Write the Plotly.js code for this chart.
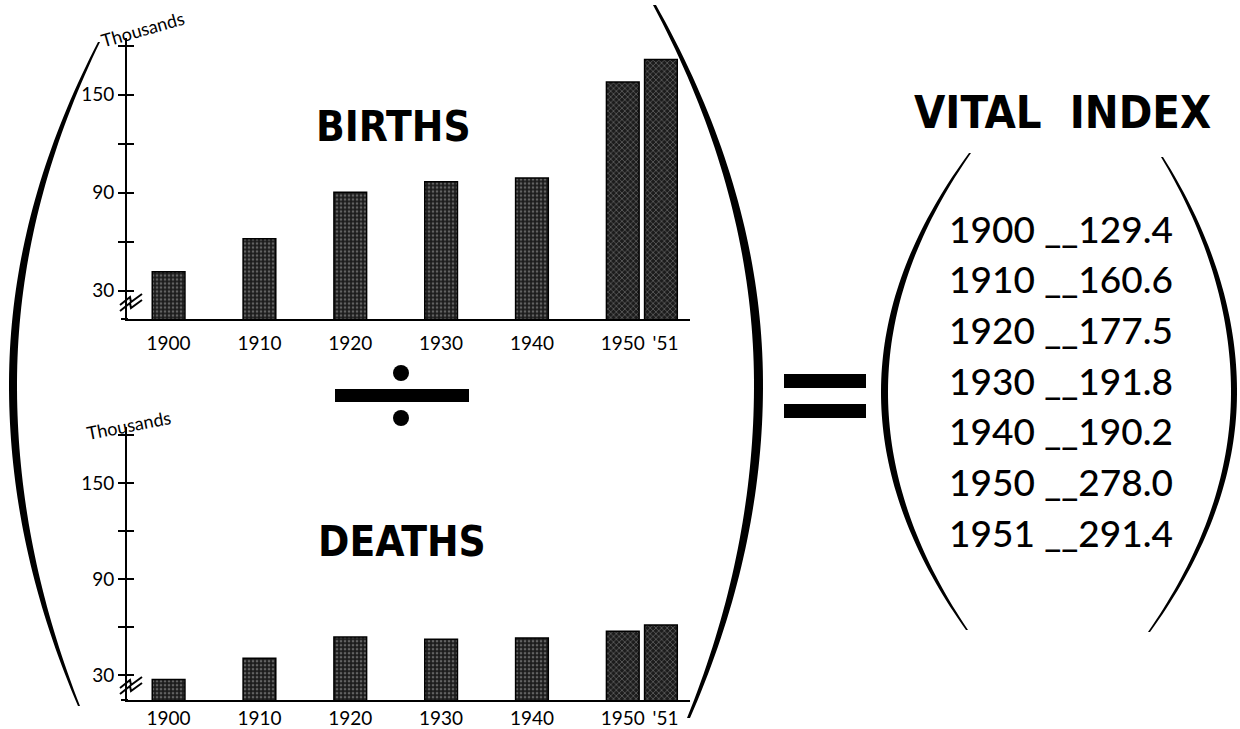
<!DOCTYPE html>
<html><head><meta charset="utf-8">
<script src="https://cdn.plot.ly/plotly-3.0.1.min.js"></script>
<style>html,body{margin:0;padding:0;background:#fff}#chart{width:1240px;height:729px}</style>
</head><body><div id="chart"></div>
<script>
// ---- data ----
const years = [1900, 1910, 1920, 1930, 1940, 1950, 1951];
const births = [41.6, 61.7, 90.3, 96.6, 98.9, 157.8, 171.6];   // thousands
const deaths = [27.3, 40.6, 53.9, 52.4, 53.3, 57.5, 61.3];     // thousands
const vitalIndex = [129.4, 160.6, 177.5, 191.8, 190.2, 278.0, 291.4];
const yTickValues = [30, 60, 90, 120, 150, 180];
const yTickLabels = ['30', '', '90', '', '150', ''];
const xTickLabels = ['1900', '1910', '1920', '1930', '1940', '1950', "'51"];
const chartTitles = ['BIRTHS', 'DEATHS'];
const unitLabel = 'Thousands';
const sideTitle = 'VITAL\u00a0 INDEX';

// ---- layout helpers ----
const W = 1240, H = 729;
const px = x => x / W, py = y => 1 - y / H;
const barW = 3.6, off51 = 1.4;
const numFont = 'Lato, "DejaVu Sans", sans-serif';
const headFont = '"DejaVu Sans Condensed", "DejaVu Sans", sans-serif';

function barTraces(vals, xa, ya) {
  const n = years.length - 1;
  const common = {
    type: 'bar', xaxis: xa, yaxis: ya, width: barW, hoverinfo: 'x+y', showlegend: false
  };
  return [
    Object.assign({}, common, {
      x: years.slice(0, n), y: vals.slice(0, n),
      marker: {
        color: '#1c1c1c', line: {color: '#000', width: 1.5},
        pattern: {shape: years.slice(0, n).map(y => y === 1950 ? 'x' : '.'),
                  fgcolor: '#a8a8a8', size: 4, solidity: 0.35, fillmode: 'overlay'}
      }
    }),
    Object.assign({}, common, {
      x: years.slice(n), y: vals.slice(n), offset: off51,
      marker: {
        color: '#1c1c1c', line: {color: '#000', width: 1.5},
        pattern: {shape: 'x', fgcolor: '#a8a8a8', size: 4, solidity: 0.35, fillmode: 'overlay'}
      }
    })
  ];
}

const traces = [
  ...barTraces(births, 'x', 'y'),
  ...barTraces(deaths, 'x2', 'y2'),
  {x: [], y: [], xaxis: 'x', yaxis: 'y3', type: 'scatter', showlegend: false, hoverinfo: 'skip'},
  {x: [], y: [], xaxis: 'x2', yaxis: 'y4', type: 'scatter', showlegend: false, hoverinfo: 'skip'}
];

const xTickVals = [...years.slice(0, -1), years[years.length - 1] + off51 + barW / 2 + 0.5];
function xAxis(anchor, standoff) {
  return {
    domain: [px(127), px(690)], range: [1895.42, 1957.4], anchor: anchor,
    showline: true, linewidth: 2, linecolor: '#000', ticks: '', tickangle: 0,
    tickvals: xTickVals, ticktext: xTickLabels, ticklabelstandoff: standoff,
    tickfont: {family: numFont, size: 19, color: '#000'},
    showgrid: false, zeroline: false, fixedrange: true
  };
}
function yAxis(anchor, dom, rng) {
  return {
    domain: dom, range: rng, anchor: anchor,
    showline: true, linewidth: 2, linecolor: '#000',
    ticks: 'outside', ticklen: 7, tickwidth: 2, tickcolor: '#000',
    tickvals: yTickValues, ticktext: yTickLabels, ticklabelstandoff: 0,
    tickfont: {family: numFont, size: 19, color: '#000'},
    showgrid: false, zeroline: false, fixedrange: true
  };
}
function yOverlay(over, anchor, rng) {
  return {
    overlaying: over, anchor: anchor, side: 'left', range: rng,
    ticks: 'inside', ticklen: 7, tickwidth: 2, tickcolor: '#000',
    tickvals: yTickValues, showticklabels: false, showline: false,
    showgrid: false, zeroline: false, fixedrange: true
  };
}
const rTop = [12.6, 185], rBot = [14.5, 185];

// ---- decorative shapes ----
function bracketPath(xa, yc, top, bot, dir, wmax, wmin) {
  const kTop = (top[0] - xa) * dir / Math.pow(yc - top[1], 2);
  const kBot = (bot[0] - xa) * dir / Math.pow(bot[1] - yc, 2);
  const outer = [], inner = [];
  const N = 80;
  for (let i = 0; i <= N; i++) {
    const y = top[1] + (bot[1] - top[1]) * i / N;
    const dy = y - yc;
    const k = dy < 0 ? kTop : kBot;
    const t = dy < 0 ? dy / (top[1] - yc) : dy / (bot[1] - yc);
    const x = xa + dir * k * dy * dy;
    const w = wmin + (wmax - wmin) * (1 - t * t);
    outer.push([x, y]);
    inner.push([x + dir * w, y]);
  }
  const pts = outer.concat(inner.reverse());
  return 'M ' + pts.map(p => px(p[0]).toFixed(5) + ',' + py(p[1]).toFixed(5)).join(' L ') + ' Z';
}
function fillPath(d) {
  return {type: 'path', xref: 'paper', yref: 'paper', path: d, fillcolor: '#000', line: {width: 0}};
}
function rect(x0, y0, x1, y1) {
  return {type: 'rect', xref: 'paper', yref: 'paper', x0: px(x0), x1: px(x1), y0: py(y1), y1: py(y0),
          fillcolor: '#000', line: {width: 0}};
}
function dot(cx, cy, r) {
  return {type: 'circle', xref: 'paper', yref: 'paper', x0: px(cx - r), x1: px(cx + r),
          y0: py(cy + r), y1: py(cy - r), fillcolor: '#000', line: {width: 0}};
}
function zig(x0, y0) {
  const p = [[x0, y0], [x0 + 10, y0 - 8], [x0 + 11, y0 - 3], [x0 + 22, y0 - 11]];
  return {type: 'path', xref: 'paper', yref: 'paper',
          path: 'M ' + p.map(q => px(q[0]) + ',' + py(q[1])).join(' L '),
          line: {color: '#000', width: 2}};
}
function seg(x0, y0, x1, y1) {
  return {type: 'line', xref: 'paper', yref: 'paper', x0: px(x0), y0: py(y0), x1: px(x1), y1: py(y1),
          line: {color: '#000', width: 2}};
}

const shapes = [
  fillPath(bracketPath(9, 385, [98, 42], [78, 706], 1, 8, 2)),
  fillPath(bracketPath(763, 385, [656, 5], [690, 718], -1, 9, 3)),
  fillPath(bracketPath(881, 392, [969, 153], [966, 630], 1, 7, 2)),
  fillPath(bracketPath(1237, 392, [1163, 157], [1150, 632], -1, 6, 2)),
  rect(335, 389, 469, 402), dot(401, 373, 8), dot(401, 418, 8),
  rect(784, 374, 866, 388), rect(784, 404, 866, 418),
  zig(120, 305), zig(120, 311), zig(120, 688), zig(120, 694),
  seg(121, 319, 128, 319), seg(121, 700, 128, 700)
];

// ---- texts ----
const annotations = [
  {text: chartTitles[0], x: px(393), y: py(126)},
  {text: chartTitles[1], x: px(402), y: py(541)}
].map(a => Object.assign(a, {xref: 'paper', yref: 'paper', showarrow: false,
  xanchor: 'center', yanchor: 'middle', font: {family: headFont, size: 42, weight: 700, color: '#000'}}));

annotations.push({text: sideTitle, x: px(1062), y: py(112), xref: 'paper', yref: 'paper', showarrow: false,
  xanchor: 'center', yanchor: 'middle', font: {family: headFont, size: 45, weight: 700, color: '#000'}});
annotations.push({text: unitLabel, x: px(143), y: py(29), xref: 'paper', yref: 'paper', showarrow: false,
  xanchor: 'center', yanchor: 'middle',
  textangle: -16, font: {family: numFont, size: 18, color: '#000'}});
annotations.push({text: unitLabel, x: px(129), y: py(425), xref: 'paper', yref: 'paper', showarrow: false,
  xanchor: 'center', yanchor: 'middle',
  textangle: -11, font: {family: numFont, size: 18, color: '#000'}});
years.forEach((yr, i) => {
  annotations.push({text: yr + ' __' + vitalIndex[i].toFixed(1), x: px(947), y: py(228 + i * 50.7),
    xref: 'paper', yref: 'paper', showarrow: false, xanchor: 'left', yanchor: 'middle',
    font: {family: numFont, size: 37, weight: 500, color: '#000'}});
});

const layout = {
  width: W, height: H, margin: {l: 0, r: 0, t: 0, b: 0},
  paper_bgcolor: '#fff', plot_bgcolor: 'rgba(0,0,0,0)', barmode: 'overlay', showlegend: false,
  xaxis: xAxis('y', 6), yaxis: yAxis('x', [py(319), py(37.5)], rTop),
  xaxis2: xAxis('y2', 0), yaxis2: yAxis('x2', [py(700), py(427.2)], rBot),
  yaxis3: yOverlay('y', 'x', rTop), yaxis4: yOverlay('y2', 'x2', rBot),
  shapes: shapes, annotations: annotations
};
Plotly.newPlot('chart', traces, layout, {staticPlot: true});
</script></body></html>
